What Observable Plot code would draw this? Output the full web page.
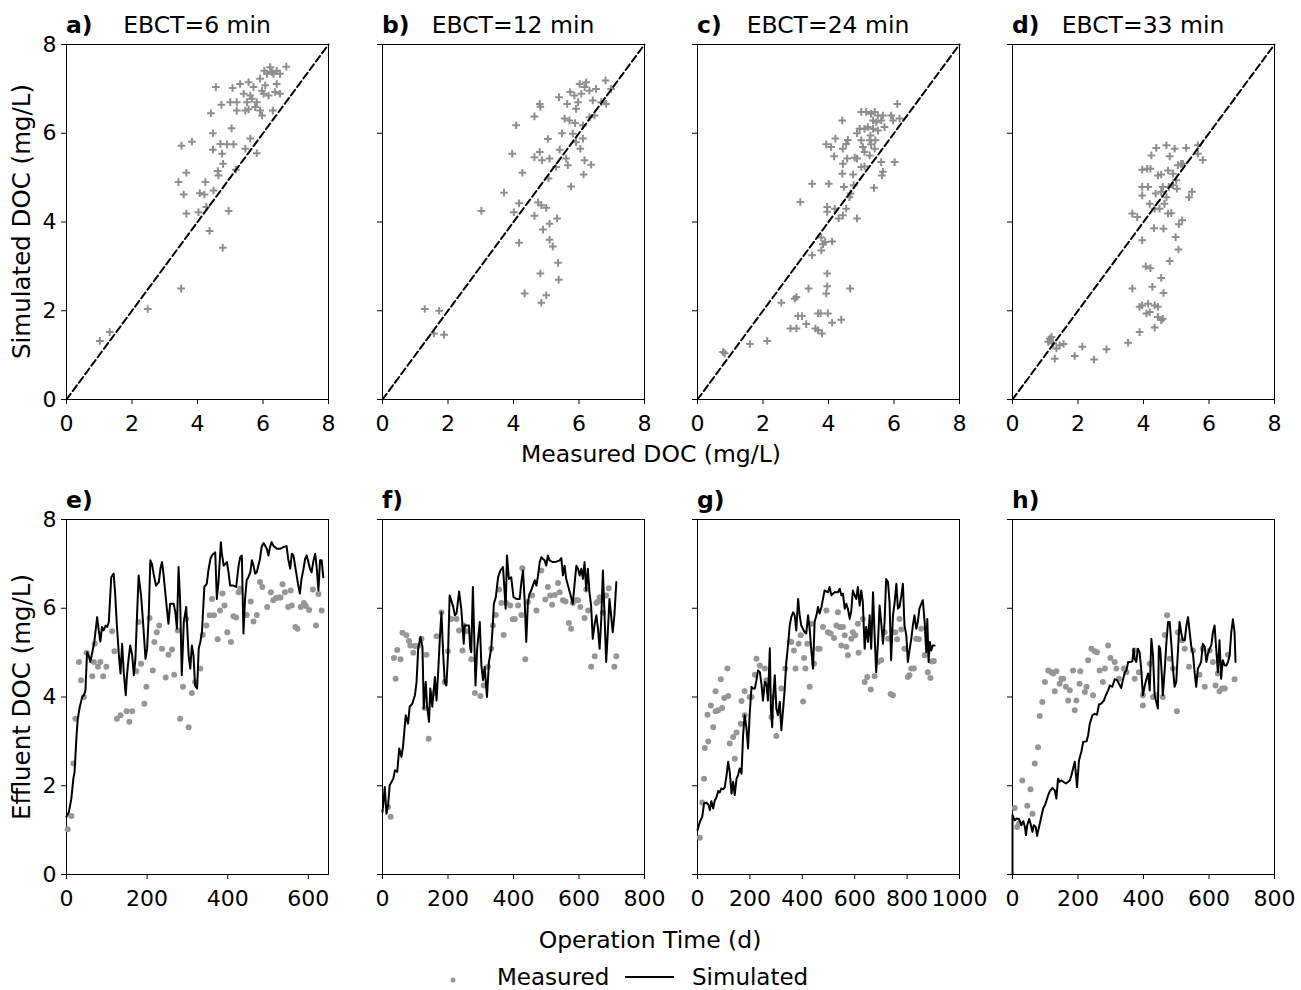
<!DOCTYPE html>
<html>
<head>
<meta charset="utf-8">
<script src="https://cdn.jsdelivr.net/npm/d3@7"></script>
<script src="https://cdn.jsdelivr.net/npm/@observablehq/plot@0.6"></script>
<style>
  html, body { margin: 0; padding: 0; background: white; }
  #fig { position: relative; width: 1301px; height: 990px; overflow: hidden; font-family: "DejaVu Sans", sans-serif; }
</style>
</head>
<body>
<div id="fig"></div>
<script>
// ---------- DATA ----------
// Top row: [measured DOC, simulated DOC] (mg/L)
const scatterA = [[1.02,1.32],[1.32,1.52],[2.48,2.04],[3.50,2.50],[3.51,5.72],[3.83,5.81],[4.56,7.04],[4.41,6.45],[4.73,6.64],[4.47,6.00],[5.04,6.11],[5.07,7.02],[5.30,7.11],[5.56,7.15],[5.00,6.70],[5.20,6.70],[5.20,6.51],[5.46,6.51],[5.51,6.70],[5.66,6.78],[5.81,6.70],[5.91,6.51],[5.97,6.40],[6.02,6.89],[6.07,7.08],[6.12,7.34],[6.22,7.49],[6.32,7.34],[6.42,7.41],[6.52,7.34],[6.71,7.50],[6.37,6.93],[6.52,6.89],[6.30,6.51],[6.17,6.85],[5.91,7.23],[5.71,7.04],[5.61,6.85],[5.61,5.88],[5.46,5.65],[5.81,5.55],[5.10,5.75],[4.90,5.75],[4.70,5.76],[4.47,5.63],[4.75,5.54],[4.78,5.31],[4.62,5.15],[4.64,5.05],[5.17,5.18],[3.42,4.90],[3.66,5.11],[3.58,4.62],[4.24,4.90],[4.07,4.65],[4.21,4.62],[4.49,4.71],[3.66,4.19],[4.03,4.22],[4.27,4.34],[4.95,4.25],[4.37,3.80],[4.77,3.42],[5.56,6.54],[5.76,6.59],[5.41,6.89],[5.97,6.96],[6.42,7.11],[6.04,7.41],[6.27,7.38]];
const scatterB = [[1.29,2.04],[1.73,2.00],[1.57,1.49],[1.88,1.46],[3.02,4.25],[3.71,4.66],[4.01,4.22],[4.17,4.42],[4.17,3.53],[4.34,2.39],[3.96,5.54],[4.27,5.11],[4.08,6.18],[4.64,6.38],[4.80,6.66],[4.82,6.60],[5.05,5.87],[4.64,5.46],[4.80,5.58],[4.87,5.39],[5.10,5.43],[5.30,5.24],[5.07,4.98],[4.75,4.44],[4.85,4.38],[5.00,4.32],[4.64,4.14],[4.90,3.83],[5.10,3.96],[5.33,4.08],[5.10,3.60],[5.20,3.45],[5.36,3.08],[5.38,2.70],[4.82,2.84],[5.00,2.35],[4.85,2.18],[5.39,6.81],[5.41,5.63],[5.48,6.00],[5.61,5.43],[5.66,5.28],[5.76,4.80],[5.73,6.93],[5.64,6.66],[5.56,6.33],[5.71,6.29],[5.88,6.23],[5.81,5.99],[5.91,5.80],[6.04,5.65],[6.12,5.88],[6.17,5.39],[6.37,5.29],[6.14,5.07],[5.91,6.55],[5.97,6.70],[6.07,6.89],[6.17,7.04],[6.22,7.15],[6.32,6.96],[6.52,7.00],[6.42,6.74],[6.32,6.36],[6.47,6.40],[6.12,6.18],[6.81,7.19],[6.98,7.00],[6.83,6.66],[6.68,6.70],[6.02,7.11],[5.86,6.85]];
const scatterC = [[0.78,1.07],[0.83,1.04],[1.60,1.25],[2.13,1.32],[2.56,2.18],[2.84,1.60],[3.02,1.60],[2.97,2.27],[3.02,2.31],[3.07,1.88],[3.19,1.88],[3.32,1.70],[3.39,2.50],[3.60,1.60],[3.68,1.56],[3.80,1.49],[3.68,1.94],[3.76,1.94],[3.98,1.94],[4.11,1.73],[4.39,1.80],[3.93,2.39],[3.96,2.55],[3.96,2.84],[4.66,2.50],[3.50,3.25],[3.78,3.36],[3.83,3.50],[3.78,3.65],[4.11,3.56],[3.90,3.55],[3.14,4.45],[3.50,4.86],[4.01,4.86],[3.96,4.34],[3.96,4.23],[4.19,4.30],[4.31,4.08],[4.44,4.15],[4.54,4.30],[4.64,4.56],[4.67,4.64],[4.47,4.79],[4.77,4.83],[4.87,4.08],[5.39,4.77],[4.42,5.09],[4.44,5.31],[4.57,5.43],[4.75,5.07],[4.80,5.45],[4.87,5.43],[5.00,5.24],[5.10,5.25],[4.17,5.48],[3.93,5.75],[4.08,5.69],[4.21,5.88],[4.44,5.65],[4.54,5.76],[4.59,5.85],[4.42,6.29],[4.87,6.00],[4.95,6.10],[5.00,5.84],[5.05,5.69],[5.10,5.58],[5.26,5.84],[5.30,5.75],[5.41,5.65],[5.26,5.50],[5.10,6.10],[5.20,6.14],[5.36,6.10],[5.51,6.06],[5.00,6.48],[5.15,6.48],[5.30,6.44],[5.41,6.48],[5.51,6.40],[5.36,6.29],[5.46,6.25],[5.61,6.29],[5.71,6.14],[5.66,6.40],[5.91,6.40],[5.97,6.29],[6.10,6.66],[6.17,6.33],[5.61,5.35],[5.66,5.13],[5.63,5.05],[6.02,5.35],[5.28,5.95],[5.43,5.84]];
const scatterD = [[1.14,1.37],[1.19,1.41],[1.09,1.30],[1.24,1.26],[1.34,1.15],[1.44,1.22],[1.56,1.25],[1.29,0.92],[1.90,0.98],[2.13,1.19],[2.49,0.90],[2.87,1.13],[3.53,1.28],[3.88,1.52],[4.34,1.62],[4.54,1.79],[4.59,1.82],[4.09,1.94],[3.88,2.09],[3.96,2.12],[4.14,2.16],[4.34,2.12],[4.44,2.09],[4.19,1.97],[4.44,1.86],[3.66,2.50],[4.27,2.54],[4.61,2.40],[4.54,2.74],[4.07,3.00],[4.21,2.96],[4.80,3.12],[3.96,3.59],[5.07,3.38],[4.98,3.66],[4.32,3.86],[4.61,3.85],[5.08,3.95],[5.18,4.04],[3.66,4.19],[3.81,4.11],[4.19,4.41],[4.34,4.30],[4.49,4.30],[4.64,4.41],[4.75,4.19],[4.85,4.20],[4.70,4.56],[4.54,4.68],[3.96,4.79],[4.14,4.79],[3.96,4.60],[4.37,4.64],[4.77,4.79],[4.90,4.83],[5.02,4.75],[4.44,5.05],[4.54,5.07],[4.90,5.09],[5.00,4.94],[5.39,4.56],[5.48,4.68],[3.96,5.18],[4.11,5.20],[4.21,5.20],[4.75,5.16],[5.05,5.28],[5.15,5.31],[4.24,5.50],[4.39,5.67],[4.70,5.73],[4.80,5.48],[4.95,5.65],[5.30,5.67],[5.66,5.73],[5.66,5.54],[5.81,5.40],[5.20,5.31],[4.59,4.79]];
const oneToOne = [[0,0],[8,8]];

// Bottom row: [operation time (d), effluent DOC (mg/L)]
const measuredE = [[3,1.02],[12,1.32],[17,2.50],[22,3.51],[31,4.79],[36,4.38],[43,4.00],[50,5.00],[64,4.47],[68,4.79],[70,5.20],[78,4.68],[84,4.79],[91,4.47],[99,4.68],[113,5.48],[119,5.03],[125,3.51],[134,3.59],[149,3.68],[156,3.44],[163,3.68],[173,4.58],[179,5.69],[185,4.75],[193,3.85],[198,4.23],[206,5.78],[214,4.60],[218,5.24],[224,5.46],[230,5.61],[237,5.09],[246,4.44],[253,4.95],[262,5.07],[267,4.50],[276,5.50],[282,3.51],[289,4.23],[297,5.76],[303,3.32],[311,4.09],[319,4.34],[332,4.64],[338,5.40],[347,5.61],[355,5.84],[361,6.21],[366,5.84],[375,5.30],[381,5.95],[387,6.33],[392,6.06],[399,5.46],[408,5.24],[414,5.82],[421,5.79],[427,6.36],[431,6.44],[447,5.85],[457,6.15],[464,5.70],[472,5.85],[480,6.59],[486,6.48],[498,6.03],[507,6.36],[513,6.18],[520,6.23],[527,6.24],[531,6.24],[536,6.54],[542,6.36],[550,6.03],[556,6.40],[559,6.06],[568,5.58],[573,5.54],[581,6.03],[589,6.12],[594,6.05],[602,5.96],[611,6.42],[619,5.61],[625,6.32],[633,5.95]];
const simulatedE = [[0,1.30],[6,1.41],[12,1.71],[17,2.16],[20,2.31],[25,3.14],[28,3.51],[33,3.78],[39,4.00],[43,4.04],[47,4.15],[51,5.01],[55,4.94],[59,4.79],[64,5.01],[69,5.24],[76,5.80],[80,5.50],[84,5.25],[88,5.58],[92,5.50],[97,5.61],[101,5.58],[105,5.69],[111,6.70],[117,6.78],[121,6.29],[125,5.61],[130,4.94],[134,4.53],[138,5.20],[142,4.56],[147,4.04],[150,4.49],[154,4.86],[158,5.16],[163,4.94],[167,4.49],[171,4.86],[175,5.84],[179,6.74],[185,6.29],[191,5.54],[196,4.86],[200,5.09],[204,5.84],[208,7.08],[212,7.00],[216,6.78],[222,6.51],[229,6.59],[233,6.89],[237,7.04],[241,6.74],[245,6.36],[249,5.99],[253,5.65],[257,6.10],[266,6.10],[270,5.91],[274,5.54],[278,6.93],[282,6.14],[286,4.49],[291,5.69],[297,6.03],[303,4.94],[307,4.64],[311,5.16],[315,4.94],[319,4.26],[324,4.19],[328,5.09],[332,5.24],[336,5.46],[342,6.48],[348,6.55],[352,6.85],[357,7.11],[361,7.19],[365,7.23],[369,7.26],[373,6.21],[377,6.59],[383,7.49],[385,7.26],[390,6.96],[394,7.00],[398,7.04],[402,6.81],[406,6.51],[414,6.51],[421,6.48],[427,6.96],[431,7.15],[435,7.19],[439,5.43],[443,6.21],[447,6.63],[451,6.70],[456,6.81],[460,7.08],[464,6.96],[468,6.78],[472,6.81],[480,7.11],[484,7.38],[489,7.47],[497,7.34],[501,7.19],[505,7.38],[509,7.49],[513,7.41],[522,7.34],[530,7.34],[538,7.38],[546,7.40],[550,7.11],[555,6.89],[559,7.23],[563,7.19],[567,6.96],[571,6.74],[575,6.51],[579,6.33],[583,6.66],[588,6.89],[592,7.11],[596,7.19],[600,7.04],[604,6.89],[608,6.81],[612,7.04],[617,7.23],[621,6.89],[625,6.40],[629,7.08],[633,7.08],[637,6.70]];

const measuredF = [[17,1.52],[25,1.30],[35,4.88],[40,4.41],[45,5.06],[55,4.85],[61,5.45],[73,5.39],[81,5.26],[85,5.16],[94,5.00],[99,5.15],[109,5.15],[119,5.31],[129,3.75],[134,4.95],[141,3.06],[155,4.08],[165,5.37],[180,5.91],[190,4.34],[200,5.03],[210,5.76],[226,5.76],[234,5.50],[244,5.05],[248,5.61],[258,5.48],[271,4.85],[282,4.09],[299,4.02],[309,4.26],[322,4.68],[332,5.09],[337,5.61],[346,5.85],[356,6.42],[363,6.12],[370,5.40],[378,6.12],[390,6.06],[398,5.75],[404,5.76],[414,6.06],[424,5.85],[427,6.90],[436,4.85],[444,6.14],[457,6.29],[470,5.95],[485,6.85],[497,6.20],[505,6.48],[512,6.29],[518,6.08],[526,6.30],[536,6.57],[541,6.36],[551,6.18],[559,6.15],[569,5.67],[576,5.54],[581,6.12],[592,6.18],[597,6.18],[604,6.03],[617,5.78],[622,6.42],[628,5.95],[637,4.68],[648,4.92],[653,6.12],[658,6.15],[663,6.25],[673,5.90],[683,6.29],[691,6.45],[708,4.68],[714,4.92]];
const simulatedF = [[0,1.41],[7,1.97],[12,1.37],[17,1.56],[22,2.01],[33,2.16],[38,2.35],[45,2.31],[51,2.84],[58,2.65],[63,2.91],[71,3.59],[78,3.40],[83,3.78],[91,3.85],[99,4.04],[104,4.34],[109,5.09],[116,5.35],[122,5.13],[126,3.74],[132,4.34],[136,3.81],[142,3.44],[146,4.19],[152,3.78],[160,4.45],[165,3.92],[170,4.56],[175,5.31],[180,5.91],[185,5.01],[190,4.34],[195,4.26],[200,4.94],[205,6.29],[216,6.03],[221,5.84],[226,5.88],[234,6.38],[241,5.95],[248,5.20],[251,5.61],[256,5.61],[264,5.61],[268,5.09],[271,5.01],[276,6.48],[284,4.26],[289,5.09],[297,5.69],[302,4.71],[307,4.38],[312,4.68],[319,4.00],[325,4.79],[332,5.09],[337,5.65],[340,6.10],[346,6.25],[353,6.70],[360,6.85],[368,6.93],[376,5.99],[380,7.19],[386,6.66],[393,6.70],[400,6.25],[409,6.21],[419,6.21],[424,6.59],[429,6.85],[434,6.18],[439,5.24],[444,6.14],[449,6.33],[454,6.40],[459,6.51],[465,6.63],[470,6.51],[475,6.74],[480,7.04],[485,7.15],[490,7.11],[495,7.08],[500,6.96],[505,7.19],[510,7.08],[520,7.04],[531,7.05],[541,7.08],[546,7.13],[551,6.74],[556,6.96],[561,6.66],[569,6.44],[576,6.25],[581,6.10],[587,6.59],[592,6.96],[597,6.89],[602,6.74],[607,6.89],[612,6.66],[617,7.04],[622,6.40],[627,6.89],[632,6.36],[637,6.06],[642,5.31],[648,5.65],[653,5.84],[658,5.54],[663,5.09],[668,5.76],[673,6.85],[678,5.84],[683,4.79],[688,5.46],[693,6.21],[698,5.84],[703,5.46],[708,5.84],[714,6.59]];

const measuredG = [[9,0.83],[18,1.62],[25,2.16],[28,2.85],[41,3.00],[38,3.60],[51,3.81],[60,3.32],[69,4.13],[69,3.68],[79,3.70],[89,4.40],[94,3.75],[102,3.98],[117,4.02],[114,4.64],[123,2.95],[136,3.10],[142,2.61],[149,3.20],[165,3.40],[168,3.91],[180,4.13],[180,3.59],[199,4.00],[206,4.00],[219,4.50],[225,4.86],[238,4.71],[257,4.64],[263,4.38],[282,3.55],[288,4.00],[301,3.12],[320,4.19],[335,4.64],[352,5.25],[358,5.24],[368,5.05],[374,4.64],[386,5.20],[394,5.39],[407,4.88],[403,3.90],[412,4.64],[419,5.20],[428,4.23],[435,5.65],[445,4.75],[460,5.09],[466,5.09],[479,5.58],[492,5.95],[498,5.46],[508,5.43],[521,5.33],[530,5.61],[536,5.91],[543,5.58],[549,5.16],[555,5.58],[562,5.39],[568,5.13],[574,4.94],[587,5.31],[593,5.46],[602,5.39],[612,5.65],[615,5.00],[631,5.76],[638,4.34],[648,4.45],[661,4.17],[676,4.47],[689,4.79],[701,4.83],[714,5.46],[727,5.31],[737,4.07],[746,4.04],[755,5.46],[762,5.30],[771,5.76],[778,5.52],[790,5.09],[803,4.45],[809,4.49],[816,4.64],[826,4.64],[835,5.31],[845,5.30],[854,5.54],[867,4.94],[879,4.56],[889,4.43],[894,4.80],[902,4.81]];
const simulatedG = [[0,1.00],[9,1.19],[18,1.30],[25,1.60],[34,1.62],[43,1.56],[47,1.45],[53,1.65],[60,1.49],[66,1.67],[72,1.73],[79,1.88],[85,1.85],[91,1.94],[98,1.92],[104,1.97],[111,2.24],[117,2.54],[123,2.31],[130,1.82],[136,2.09],[142,1.79],[149,2.16],[155,2.24],[161,2.39],[168,2.27],[174,3.14],[180,3.59],[187,3.29],[193,2.84],[199,3.59],[206,4.23],[212,4.19],[219,4.19],[225,4.38],[231,4.60],[238,4.56],[244,4.30],[250,3.92],[257,4.34],[263,4.30],[269,3.92],[276,5.10],[280,3.74],[285,3.32],[288,3.92],[295,4.49],[301,3.74],[307,3.59],[314,3.89],[320,3.25],[327,3.74],[333,4.19],[339,4.79],[346,5.20],[352,5.61],[358,5.80],[365,5.91],[371,5.84],[377,5.50],[384,6.21],[390,5.84],[396,5.61],[409,5.46],[415,5.43],[422,5.84],[428,5.54],[435,5.01],[441,4.64],[447,5.69],[454,5.84],[460,6.03],[466,5.88],[473,6.03],[479,6.21],[485,6.40],[498,6.36],[504,6.48],[511,6.29],[523,6.36],[536,6.36],[543,6.44],[549,6.29],[555,6.33],[562,5.99],[568,6.10],[574,5.99],[581,5.76],[587,5.95],[593,6.40],[600,6.29],[606,6.21],[612,6.48],[619,6.06],[625,6.40],[631,6.14],[638,5.09],[644,5.58],[651,5.24],[657,5.84],[663,5.09],[670,6.36],[676,5.39],[682,4.56],[689,5.24],[695,6.06],[701,5.69],[708,5.20],[714,5.69],[720,6.66],[727,6.59],[733,6.14],[739,4.83],[746,5.84],[752,6.10],[759,6.55],[765,5.99],[771,6.03],[778,6.29],[784,6.55],[790,5.61],[797,5.39],[803,4.79],[809,5.05],[816,5.31],[822,5.61],[828,5.84],[835,5.54],[841,5.69],[847,5.99],[854,6.10],[860,6.18],[867,5.69],[873,5.01],[877,5.76],[882,4.79],[887,5.24],[892,5.05],[898,5.16],[905,5.16]];

const measuredH = [[7,1.50],[14,1.07],[20,1.15],[30,2.12],[45,1.55],[55,1.92],[61,1.37],[68,2.50],[78,2.87],[83,3.57],[91,3.89],[99,4.34],[109,4.60],[119,4.56],[124,4.53],[129,4.13],[134,4.58],[144,4.30],[149,4.41],[155,4.41],[163,4.23],[170,3.92],[175,4.15],[185,4.60],[190,3.70],[195,3.92],[205,4.30],[207,4.58],[221,4.11],[226,4.23],[231,4.83],[241,5.09],[246,4.04],[251,5.03],[258,5.01],[266,4.60],[276,4.34],[282,4.64],[292,5.16],[299,4.88],[312,4.79],[317,4.64],[325,4.41],[340,4.64],[348,4.56],[373,4.41],[373,5.05],[386,4.56],[398,3.81],[398,4.04],[419,4.75],[429,4.00],[439,4.04],[459,4.00],[465,5.40],[472,5.84],[480,4.86],[490,4.64],[502,3.68],[505,5.46],[518,5.28],[526,5.09],[539,4.68],[551,5.05],[571,4.50],[581,5.09],[587,4.23],[602,5.05],[612,4.79],[620,4.26],[627,4.53],[632,4.13],[640,4.19],[648,4.19],[658,4.95],[678,4.40]];
const simulatedH = [[0,0],[0,1.34],[7,1.22],[12,1.26],[20,1.25],[27,1.11],[33,1.20],[38,1.07],[41,0.89],[45,1.11],[51,1.25],[55,1.15],[61,0.96],[65,1.11],[71,1.07],[75,0.87],[81,1.07],[88,1.30],[94,1.50],[99,1.56],[104,1.67],[109,1.79],[114,1.88],[122,1.95],[129,1.90],[134,1.71],[139,2.16],[144,2.09],[149,2.12],[155,2.09],[163,2.05],[170,2.09],[175,2.12],[180,2.24],[185,2.39],[190,2.54],[195,2.16],[197,1.97],[203,2.57],[210,2.76],[216,2.99],[226,3.00],[231,3.14],[236,3.40],[244,3.59],[251,3.62],[258,3.60],[264,3.83],[271,3.85],[279,3.92],[285,4.04],[292,4.15],[297,4.26],[305,4.23],[312,4.40],[319,4.38],[325,4.30],[332,4.20],[337,4.38],[343,4.56],[348,4.60],[353,4.79],[358,4.79],[366,4.80],[370,5.09],[373,4.86],[378,4.79],[383,5.09],[388,5.01],[393,4.64],[398,4.04],[404,4.26],[409,4.41],[414,4.53],[419,4.15],[424,5.31],[429,4.94],[434,4.04],[439,3.89],[444,3.74],[447,5.15],[451,5.09],[456,4.49],[459,4.04],[465,4.64],[470,5.24],[475,5.69],[480,5.69],[485,5.20],[490,4.64],[495,4.23],[500,4.34],[505,5.01],[510,5.69],[515,5.46],[520,5.28],[526,5.28],[531,5.61],[536,5.80],[541,5.46],[546,5.13],[551,4.98],[556,4.56],[561,4.23],[566,4.64],[571,4.71],[576,4.79],[581,5.20],[587,5.13],[592,4.79],[597,4.98],[602,5.09],[607,5.16],[612,5.46],[617,5.61],[622,5.09],[627,4.56],[632,5.28],[637,4.41],[642,4.83],[648,4.71],[653,4.71],[658,4.79],[663,4.94],[668,5.46],[673,5.75],[678,5.46],[681,4.79]];

// Panel labels and axes
const topTitles = ["EBCT=6 min", "EBCT=12 min", "EBCT=24 min", "EBCT=33 min"];
const topLetters = ["a)", "b)", "c)", "d)"];
const bottomLetters = ["e)", "f)", "g)", "h)"];
const yTicks = [0, 2, 4, 6, 8];
const topXTicks = [0, 2, 4, 6, 8];
const bottomXDomains = [[0, 650], [0, 800], [0, 1000], [0, 800]];
const bottomXTicks = [[0, 200, 400, 600], [0, 200, 400, 600, 800], [0, 200, 400, 600, 800, 1000], [0, 200, 400, 600, 800]];

// ---------- LAYOUT ----------
const fig = document.getElementById("fig");
const panelLefts = [66, 382, 697, 1012];
const panelW = 262, panelH = 355;
const topRowY = 44, bottomRowY = 519;
const ML = 70, MR = 20, MT = 10, MB = 50;
const crossColor = "#8e8e8e";
const dotColor = "#969696";

function addPanel(left, top, xDomain, xTicks, showY, marks) {
  const chart = Plot.plot({
    width: panelW + ML + MR,
    height: panelH + MT + MB,
    marginLeft: ML, marginRight: MR, marginTop: MT, marginBottom: MB,
    x: {domain: xDomain},
    y: {domain: [0, 8]},
    style: {fontFamily: "DejaVu Sans", fontSize: "22px", background: "transparent", overflow: "visible", color: "black"},
    marks: [
      Plot.frame({stroke: "black", strokeWidth: 1}),
      Plot.axisX({ticks: xTicks, tickSize: 5, tickPadding: 11, label: null, tickFormat: d => String(d), fontSize: 22}),
      Plot.axisY({ticks: yTicks, tickSize: 5, tickPadding: 5, label: null, tickFormat: showY ? (d => String(d)) : (() => ""), fontSize: 22}),
      ...marks
    ]
  });
  chart.style.position = "absolute";
  chart.style.left = (left - ML) + "px";
  chart.style.top = (top - MT) + "px";
  fig.appendChild(chart);
}

const scatters = [scatterA, scatterB, scatterC, scatterD];
scatters.forEach((data, i) => {
  addPanel(panelLefts[i], topRowY, [0, 8], topXTicks, i === 0, [
    Plot.dot(data, {x: d => d[0], y: d => d[1], symbol: "plus", r: 2.6, stroke: crossColor, strokeWidth: 2}),
    Plot.line(oneToOne, {x: d => d[0], y: d => d[1], stroke: "black", strokeWidth: 2, strokeDasharray: "7,3.5"})
  ]);
});

const measured = [measuredE, measuredF, measuredG, measuredH];
const simulated = [simulatedE, simulatedF, simulatedG, simulatedH];
measured.forEach((m, i) => {
  addPanel(panelLefts[i], bottomRowY, bottomXDomains[i], bottomXTicks[i], i === 0, [
    Plot.dot(m, {x: d => d[0], y: d => d[1], r: 3, fill: dotColor, stroke: "none"}),
    Plot.line(simulated[i], {x: d => d[0], y: d => d[1], stroke: "black", strokeWidth: 2, curve: "linear"})
  ]);
});

// ---------- TEXT OVERLAY ----------
const svg = d3.select(fig).append("svg")
  .attr("width", 1301).attr("height", 990)
  .style("position", "absolute").style("left", "0px").style("top", "0px")
  .style("pointer-events", "none")
  .attr("font-family", "DejaVu Sans");

panelLefts.forEach((x, i) => {
  svg.append("text").attr("x", x).attr("y", 33).attr("font-size", 23.5).attr("font-weight", "bold").text(topLetters[i]);
  svg.append("text").attr("x", x + panelW / 2).attr("y", 33).attr("font-size", 23.5).attr("text-anchor", "middle").text(topTitles[i]);
  svg.append("text").attr("x", x).attr("y", 508).attr("font-size", 23.5).attr("font-weight", "bold").text(bottomLetters[i]);
});

svg.append("text").attr("x", 651).attr("y", 462).attr("font-size", 23.5).attr("text-anchor", "middle").text("Measured DOC (mg/L)");
svg.append("text").attr("x", 650).attr("y", 948).attr("font-size", 23.5).attr("text-anchor", "middle").text("Operation Time (d)");
svg.append("text").attr("transform", "translate(30,221.5) rotate(-90)").attr("font-size", 24.5).attr("text-anchor", "middle").text("Simulated DOC (mg/L)");
svg.append("text").attr("transform", "translate(30,697) rotate(-90)").attr("font-size", 24.5).attr("text-anchor", "middle").text("Effluent DOC (mg/L)");

// Legend
svg.append("circle").attr("cx", 453).attr("cy", 980).attr("r", 2.5).attr("fill", dotColor);
svg.append("text").attr("x", 497).attr("y", 985).attr("font-size", 23).text("Measured");
svg.append("line").attr("x1", 625).attr("x2", 674).attr("y1", 977).attr("y2", 977).attr("stroke", "black").attr("stroke-width", 2);
svg.append("text").attr("x", 692).attr("y", 985).attr("font-size", 23).text("Simulated");
</script>
</body>
</html>
